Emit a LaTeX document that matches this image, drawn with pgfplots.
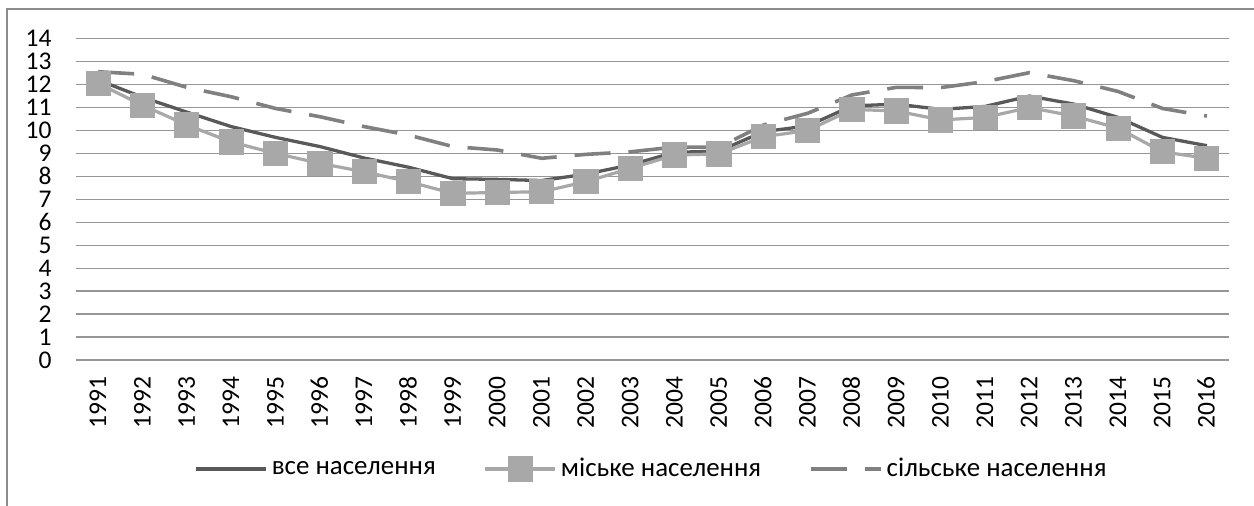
\documentclass[border=0pt]{standalone}
\usepackage{pgfplots}
\pgfplotsset{compat=1.18}
\usepackage{fontspec}
\setmainfont{Carlito}
\definecolor{cdark}{RGB}{89,89,89}
\definecolor{clight}{RGB}{168,168,168}
\definecolor{cmid}{RGB}{128,128,128}
\definecolor{cgrid}{RGB}{150,150,150}
\definecolor{cframe}{RGB}{140,140,140}

\begin{document}
\begin{tikzpicture}
\useasboundingbox (-38bp,-73bp) rectangle (589bp,180bp);
\draw[cframe, line width=1bp] (-34.5bp,-73bp) -- (-34.5bp,175.5bp) -- (589bp,175.5bp);
\begin{axis}[
  at={(0,0)}, anchor=south west,
  scale only axis, width=576.5bp, height=160.65bp,
  xmin=1990.5, xmax=2016.5, ymin=0, ymax=14,
  ytick={0,1,...,14}, xtick={1991,1992,...,2016},
  ymajorgrids, grid style={cgrid, line width=0.7bp},
  axis line style={draw=none}, major tick length=0pt,
  clip=false,
  tick label style={font=\fontsize{12.8}{12.8}\selectfont, text=black},
  /pgf/number format/assume math mode=true,
  xticklabel style={rotate=90, anchor=east, inner sep=0pt, text height=8bp, text depth=0pt, /pgf/number format/1000 sep={}},
  xticklabel shift=8bp,
  yticklabel style={anchor=east, inner sep=0pt, text height=8bp, text depth=0pt},
  yticklabel shift=12bp,
  legend columns=3,
  legend style={at={(0.5,0)}, anchor=center, yshift=-54.5bp, draw=none, fill=none,
    font=\fontsize{13.5}{13.5}\selectfont,
    /tikz/every even column/.append style={column sep=22bp}},
  legend image code/.code={\draw[mark repeat=2,mark phase=2,#1] plot coordinates {(0bp,0bp) (17.5bp,0bp) (35bp,0bp)};},
]
\addplot[cdark, line width=1.65bp, mark=none] coordinates {
(1991,12.2) (1992,11.45) (1993,10.8) (1994,10.17) (1995,9.7) (1996,9.3) (1997,8.8) (1998,8.4)
(1999,7.9) (2000,7.87) (2001,7.82) (2002,8.1) (2003,8.5) (2004,9.05) (2005,9.1) (2006,9.95)
(2007,10.2) (2008,11.07) (2009,11.15) (2010,10.92) (2011,11.05) (2012,11.5) (2013,11.15)
(2014,10.57) (2015,9.7) (2016,9.34)};
\addlegendentry{все населення}
\addplot[clight, line width=1.6bp, mark=square*, mark size=5.5bp, mark options={solid, fill=clight, draw=clight}] coordinates {
(1991,12.05) (1992,11.1) (1993,10.24) (1994,9.5) (1995,9.0) (1996,8.57) (1997,8.2) (1998,7.77)
(1999,7.26) (2000,7.3) (2001,7.33) (2002,7.77) (2003,8.35) (2004,8.93) (2005,8.98) (2006,9.73)
(2007,10.0) (2008,10.92) (2009,10.85) (2010,10.46) (2011,10.57) (2012,11.0) (2013,10.63)
(2014,10.1) (2015,9.07) (2016,8.79)};
\addlegendentry{міське населення}
\addplot[cmid, line width=1.8bp, dash pattern=on 18bp off 9bp, mark=none] coordinates {
(1991,12.56) (1992,12.45) (1993,11.88) (1994,11.47) (1995,10.96) (1996,10.6) (1997,10.17) (1998,9.8)
(1999,9.3) (2000,9.15) (2001,8.79) (2002,8.96) (2003,9.07) (2004,9.28) (2005,9.27) (2006,10.24)
(2007,10.75) (2008,11.55) (2009,11.88) (2010,11.87) (2011,12.13) (2012,12.52) (2013,12.17)
(2014,11.7) (2015,10.96) (2016,10.63)};
\addlegendentry{сільське населення}
\end{axis}
\end{tikzpicture}
\end{document}
